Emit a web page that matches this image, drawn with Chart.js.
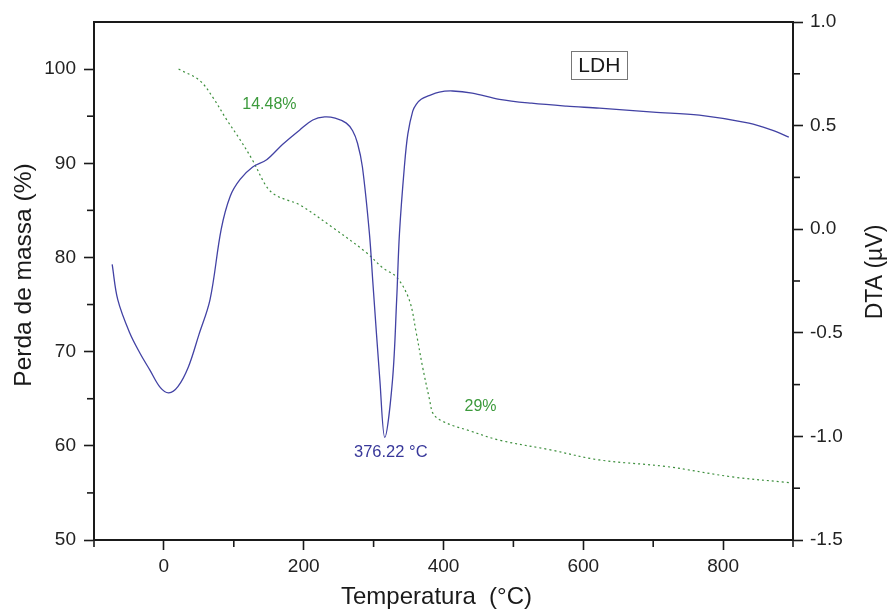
<!DOCTYPE html>
<html>
<head>
<meta charset="utf-8">
<script src="https://cdn.jsdelivr.net/npm/chart.js@4/dist/chart.umd.min.js"></script>
<style>
  html, body { margin: 0; padding: 0; background: #fff; }
  #wrap { width: 891px; height: 610px; position: relative; }
</style>
</head>
<body>
<div id="wrap"><canvas id="c"></canvas></div>
<script>
// DTA signal (µV) against temperature (°C)
const dtaTemp   = [-74, -66, -49, -34, -20, -5, 7, 20, 35, 50, 66, 82, 95, 109, 127, 147, 170, 194, 213, 230, 245, 261, 270, 277, 284, 294, 299, 309, 316, 327, 333, 337, 344, 349, 356, 361, 368, 378, 394, 413, 441, 480, 526, 576, 623, 700, 766, 837, 870, 894];
const dtaSignal = [-0.17, -0.34, -0.50, -0.60, -0.68, -0.765, -0.79, -0.76, -0.665, -0.51, -0.34, 0.0, 0.16, 0.24, 0.30, 0.335, 0.41, 0.478, 0.527, 0.542, 0.536, 0.512, 0.475, 0.415, 0.30, -0.02, -0.26, -0.73, -1.005, -0.73, -0.34, -0.02, 0.30, 0.46, 0.570, 0.603, 0.627, 0.643, 0.662, 0.667, 0.657, 0.627, 0.608, 0.594, 0.584, 0.565, 0.551, 0.512, 0.478, 0.444];

// Mass loss (%) against temperature (°C)
const tgTemp = [21, 51, 70, 90, 109, 127, 147, 160, 176, 194, 241, 290, 313, 333, 351, 361, 370, 380, 384, 390, 399, 415, 433, 480, 551, 623, 719, 813, 894];
const tgMass = [100, 98.8, 97.0, 94.6, 92.5, 90.3, 87.5, 86.6, 86.1, 85.6, 83.2, 80.5, 78.9, 77.9, 75.5, 72.0, 68.4, 64.9, 63.6, 63.0, 62.6, 62.1, 61.7, 60.6, 59.6, 58.5, 57.8, 56.7, 56.1];

// Axis ticks
const tempTicks  = [0, 200, 400, 600, 800];
const tempMinor  = [-100, 100, 300, 500, 700, 900];
const massTicks  = [50, 60, 70, 80, 90, 100];
const massMinor  = [55, 65, 75, 85, 95];
const dtaTicks   = [-1.5, -1.0, -0.5, 0.0, 0.5, 1.0];
const dtaMinor   = [-1.25, -0.75, -0.25, 0.25, 0.75];

// Texts
const stepLoss1 = '14.48%';
const stepLoss2 = '29%';
const peakLabel = '376.22 °C';
const sampleName = 'LDH';
const xTitle = 'Temperatura  (°C)';
const yTitle = 'Perda de massa (%)';
const y2Title = 'DTA (µV)';

const BLUE = '#4242a4';
const BLUE_TEXT = '#38389a';
const GREEN = '#3d8f3d';
const GREEN_TEXT = '#3c9a3c';
const INK = '#1a1a1a';
const FONT = "'Liberation Sans', Arial, sans-serif";

const toPoints = (xs, ys) => xs.map((v, i) => ({ x: v, y: ys[i] }));

const decor = {
  id: 'decor',
  afterDraw(chart) {
    const { ctx, chartArea: a, scales: { x, y, y2 } } = chart;
    ctx.save();
    const line = (x1, y1, x2, y2_) => { ctx.beginPath(); ctx.moveTo(x1, y1); ctx.lineTo(x2, y2_); ctx.stroke(); };
    const rotated = (text, cx, cy) => {
      ctx.save(); ctx.translate(cx, cy); ctx.rotate(-Math.PI / 2); ctx.fillText(text, 0, 0); ctx.restore();
    };

    // frame top edge
    ctx.strokeStyle = INK;
    ctx.lineWidth = 2;
    line(a.left - 1, a.top, a.right + 1, a.top);

    // minor ticks
    ctx.lineWidth = 1.6;
    tempMinor.forEach(v => { const px = x.getPixelForValue(v); line(px, a.bottom, px, a.bottom + 7); });
    massMinor.forEach(v => { const py = y.getPixelForValue(v); line(a.left - 7, py, a.left, py); });
    dtaMinor.forEach(v => { const py = y2.getPixelForValue(v); line(a.right, py, a.right + 7, py); });

    ctx.textAlign = 'center';
    ctx.textBaseline = 'middle';

    // mass-loss step labels
    ctx.font = '16px ' + FONT;
    ctx.fillStyle = GREEN_TEXT;
    ctx.fillText(stepLoss1, x.getPixelForValue(151), y.getPixelForValue(96.2));
    ctx.fillText(stepLoss2, x.getPixelForValue(453), y.getPixelForValue(64.2));

    // DTA minimum label, placed under the lowest point of the curve
    let iMin = 0;
    dtaSignal.forEach((v, i) => { if (v < dtaSignal[iMin]) iMin = i; });
    const mx = x.getPixelForValue(dtaTemp[iMin]);
    const my = y2.getPixelForValue(dtaSignal[iMin]);
    ctx.font = '16.5px ' + FONT;
    ctx.fillStyle = BLUE_TEXT;
    ctx.fillText(peakLabel, mx + 6, my + 15);

    // sample name box
    const bx = x.getPixelForValue(623), by = y.getPixelForValue(100.4);
    ctx.font = '21px ' + FONT;
    ctx.fillStyle = INK;
    ctx.fillText(sampleName, bx, by + 1);
    ctx.strokeStyle = '#777';
    ctx.lineWidth = 1;
    ctx.strokeRect(Math.round(bx - 28) + 0.5, Math.round(by - 14) + 0.5, 56, 28);

    // axis titles
    ctx.fillStyle = INK;
    ctx.font = '24px ' + FONT;
    ctx.fillText(xTitle, (a.left + a.right) / 2 - 7, 597);
    ctx.font = '24.5px ' + FONT;
    rotated(yTitle, 24, (a.top + a.bottom) / 2 - 6);
    ctx.font = '23px ' + FONT;
    rotated(y2Title, 876, (a.top + a.bottom) / 2 - 9);

    ctx.restore();
  }
};

const axisGrid = { drawOnChartArea: false, drawTicks: true, tickLength: 10, tickColor: INK, tickWidth: 1.6 };
const axisBorder = { display: true, color: INK, width: 2 };
const tickFont = { family: FONT, size: 19 };

new Chart(document.getElementById('c'), {
  type: 'line',
  data: {
    datasets: [
      {
        label: 'DTA',
        data: toPoints(dtaTemp, dtaSignal),
        yAxisID: 'y2',
        borderColor: BLUE,
        borderWidth: 1.3,
        pointRadius: 0,
        tension: 0.35,
        fill: false
      },
      {
        label: 'TG',
        data: toPoints(tgTemp, tgMass),
        yAxisID: 'y',
        borderColor: GREEN,
        borderWidth: 1.2,
        borderDash: [2, 3],
        pointRadius: 0,
        tension: 0.35,
        fill: false
      }
    ]
  },
  options: {
    responsive: true,
    maintainAspectRatio: false,
    animation: false,
    events: [],
    layout: { padding: { top: 22, left: 0, right: 0, bottom: 0 } },
    plugins: { legend: { display: false }, tooltip: { enabled: false } },
    scales: {
      x: {
        type: 'linear',
        position: 'bottom',
        min: -100,
        max: 900,
        afterBuildTicks: s => { s.ticks = tempTicks.map(v => ({ value: v })); },
        afterFit: s => { s.height = 70; },
        grid: axisGrid,
        border: axisBorder,
        ticks: { color: '#222', font: tickFont, padding: 5, maxRotation: 0 }
      },
      y: {
        type: 'linear',
        position: 'left',
        min: 50,
        max: 105,
        afterBuildTicks: s => { s.ticks = massTicks.map(v => ({ value: v })); },
        afterFit: s => { s.width = 94; },
        grid: axisGrid,
        border: axisBorder,
        ticks: { color: '#222', font: tickFont, padding: 8 }
      },
      y2: {
        type: 'linear',
        position: 'right',
        min: -1.5,
        max: 1.0,
        afterBuildTicks: s => { s.ticks = dtaTicks.map(v => ({ value: v })); },
        afterFit: s => { s.width = 98; },
        grid: axisGrid,
        border: axisBorder,
        ticks: { color: '#222', font: tickFont, padding: 7, callback: v => Number(v).toFixed(1) }
      }
    }
  },
  plugins: [decor]
});
</script>
</body>
</html>
